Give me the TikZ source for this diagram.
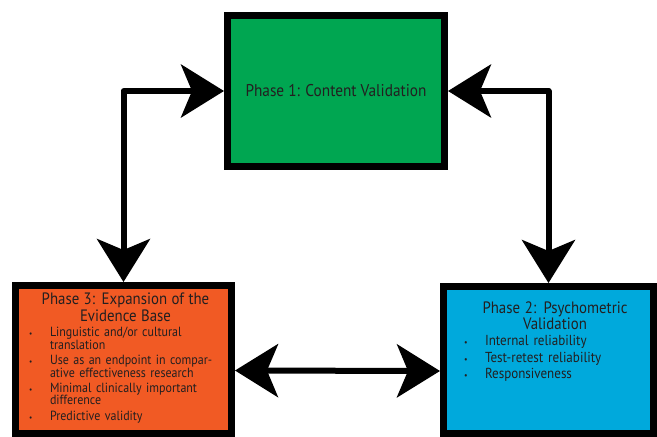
\documentclass[tikz,border=0pt]{standalone}
\usepackage{fontspec}
\setmainfont{PT Sans}[FakeStretch=0.9]
\usepackage{tikz}
\usetikzlibrary{positioning,arrows.meta}
\usepackage{xcolor}

\definecolor{phasegreen}{HTML}{00A651}
\definecolor{phaseorange}{HTML}{F15A24}
\definecolor{phaseblue}{HTML}{00A9DC}
\definecolor{phasetext}{HTML}{231F20}

\newcommand{\phaseitem}[1]{\par\vspace{2.5pt}\hangindent=22pt\hangafter=1\noindent\makebox[22pt][l]{\hspace{1pt}\scalebox{0.6}{\textbullet}}#1}

\tikzset{
  phasebox/.style={draw=black, line width=7pt, rectangle, inner sep=0pt},
  phaselabel/.style={text=phasetext, inner sep=0pt, align=left},
  link/.style={line width=6pt, line join=round,
    {Stealth[length=43pt,width=53pt,inset=11pt]}-{Stealth[length=43pt,width=53pt,inset=11pt]}}
}

\begin{document}
\begin{tikzpicture}[x=1pt,y=-1pt]
    \useasboundingbox (0,0) rectangle (657,437);

    % the three phases
    \node[phasebox, fill=phasegreen, minimum width=217pt, minimum height=151pt] (p1) at (336,91) {};
    \node[phasebox, fill=phaseorange, minimum width=216pt, minimum height=148pt] (p3) at (123.5,359.5) {};
    \node[phasebox, fill=phaseblue, minimum width=210pt, minimum height=147pt] (p2) at (548.5,360) {};

    \node[phaselabel, font=\fontsize{17}{17}\selectfont] (p1txt) at (p1) {Phase 1: Content Validation};

    \node[phaselabel, anchor=north, text width=195pt, font=\fontsize{13.3}{12.6}\selectfont] (p3txt) at ([yshift=-11pt,xshift=2pt]p3.north)
      {\lineskiplimit=-6pt\hyphenpenalty=10000
       {\centering\fontsize{16.5}{17}\selectfont Phase 3: Expansion of the\\ Evidence Base\par}
       \phaseitem{Linguistic and/or cultural translation}
       \phaseitem{Use as an endpoint in compar-\linebreak ative effectiveness research}
       \phaseitem{Minimal clinically important difference}
       \phaseitem{Predictive validity}};

    \node[phaselabel, anchor=north, text width=184pt, font=\fontsize{14.5}{14}\selectfont] (p2txt) at ([yshift=-19pt,xshift=6.5pt]p2.north)
      {\lineskiplimit=-6pt
       {\centering\fontsize{16.5}{15.5}\selectfont Phase 2: Psychometric\\ Validation\par}
       \phaseitem{Internal reliability}
       \phaseitem{Test-retest reliability}
       \phaseitem{Responsiveness}};

    % connectors
    \draw[link] (p3.north) |- (p1.west);
    \draw[link] (p2.north) |- (p1.east);
    \draw[link] ([yshift=-11pt]p3.east) -- ([yshift=-11pt]p2.west);
\end{tikzpicture}
\end{document}
